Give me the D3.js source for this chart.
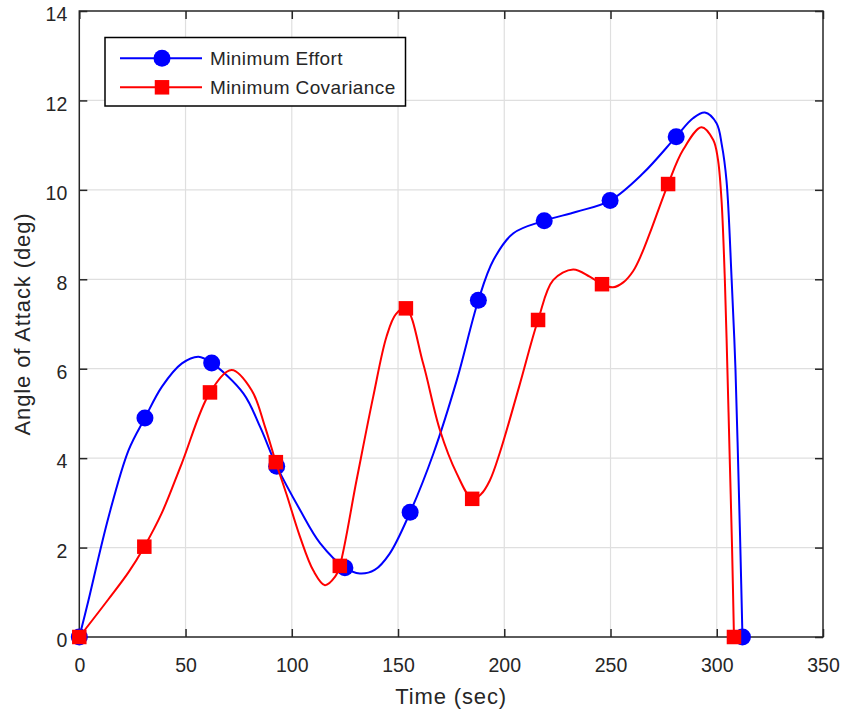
<!DOCTYPE html>
<html>
<head>
<meta charset="utf-8">
<script src="https://cdn.jsdelivr.net/npm/d3@7"></script>
<style>
  html, body { margin: 0; padding: 0; background: #ffffff; }
  svg text { font-family: "Liberation Sans", Arial, Helvetica, sans-serif; fill: #262626; }
</style>
</head>
<body>
<svg id="chart" width="843" height="717"></svg>
<script>
// ---- Data ----
const seriesNames = ["Minimum Effort", "Minimum Covariance"];
const xTicks = [0, 50, 100, 150, 200, 250, 300, 350];
const yTicks = [0, 2, 4, 6, 8, 10, 12, 14];

// Marker samples
const effortTime = [0, 30.9, 62.3, 92.9, 125.0, 155.7, 187.8, 218.8, 249.8, 280.9, 312.1];
const effortAoA  = [0, 4.90, 6.13, 3.82, 1.55, 2.79, 7.53, 9.31, 9.76, 11.19, 0];
const covTime    = [0, 30.6, 61.5, 92.5, 122.6, 153.7, 184.9, 215.9, 246.0, 277.1, 308.1];
const covAoA     = [0, 2.02, 5.47, 3.91, 1.59, 7.35, 3.09, 7.09, 7.89, 10.13, 0];

// Continuous trajectory samples
const effortCurveTime = [0, 3.6, 13.8, 23.2, 30.9, 38.9, 48.3, 56.1, 62.3, 77.2, 85.1, 92.9, 103.9, 113.3, 125.0, 132.0, 139.0, 146.0, 155.7, 166.7, 177.7, 187.8, 194.9, 204.3, 218.8, 234.0, 249.8, 265.3, 280.9, 288.8, 294.4, 299.9, 302.4, 304.6, 307.0, 308.8, 310.0, 311.1, 312.1];
const effortCurveAoA  = [0, 0.68, 2.69, 4.18, 4.90, 5.60, 6.12, 6.27, 6.13, 5.45, 4.70, 3.82, 2.84, 2.10, 1.55, 1.42, 1.50, 1.86, 2.79, 4.11, 5.75, 7.53, 8.43, 9.03, 9.31, 9.51, 9.76, 10.37, 11.19, 11.60, 11.73, 11.49, 11.0, 10.2, 8.0, 6.0, 4.0, 2.0, 0];
const covCurveTime = [0, 13.8, 23.2, 30.6, 38.8, 48.2, 61.5, 71.7, 81.1, 87.4, 92.5, 97.6, 103.8, 110.2, 115.6, 120.4, 122.6, 130.5, 138.3, 144.6, 149.0, 153.7, 161.8, 169.7, 177.6, 184.9, 189.0, 193.2, 197.9, 207.0, 215.9, 223.0, 232.4, 240.2, 246.0, 251.2, 256.0, 260.6, 264.5, 268.5, 277.1, 284.1, 292.8, 298.3, 300.5, 302.2, 303.8, 305.0, 306.1, 307.2, 308.1];
const covCurveAoA  = [0, 0.85, 1.45, 2.02, 2.77, 3.88, 5.47, 5.97, 5.52, 4.70, 3.91, 3.18, 2.25, 1.48, 1.16, 1.35, 1.59, 3.51, 5.37, 6.72, 7.22, 7.35, 6.12, 4.63, 3.66, 3.09, 3.19, 3.50, 4.12, 5.60, 7.09, 7.98, 8.22, 8.06, 7.89, 7.82, 7.93, 8.18, 8.55, 9.03, 10.13, 10.89, 11.40, 11.12, 10.7, 9.8, 8.0, 6.0, 4.0, 2.0, 0];

const seriesColors = ["#0000ff", "#ff0000"];

// ---- Layout ----
const svg = d3.select("#chart");
const plotL = 79.3, plotR = 823, plotT = 11, plotB = 637;
const x = d3.scaleLinear().domain([0, 350]).range([plotL, plotR]);
const y = d3.scaleLinear().domain([0, 14]).range([plotB, plotT]);
const axisColor = "#262626";

// Grid
const grid = svg.append("g");
grid.selectAll("line.vg").data(xTicks.slice(1, -1)).enter().append("line")
  .attr("x1", d => x(d)).attr("x2", d => x(d)).attr("y1", plotT).attr("y2", plotB)
  .attr("stroke", "#dfdfdf").attr("stroke-width", 1.2);
grid.selectAll("line.hg").data(yTicks.slice(1, -1)).enter().append("line")
  .attr("y1", d => y(d)).attr("y2", d => y(d)).attr("x1", plotL).attr("x2", plotR)
  .attr("stroke", "#dfdfdf").attr("stroke-width", 1.2);

// Axes (box with inward ticks on all sides)
function styleAxis(g) {
  g.select(".domain").remove();
  g.selectAll(".tick line").attr("stroke", axisColor).attr("stroke-width", 1.5);
  g.selectAll(".tick text").attr("font-size", 19.5).attr("fill", axisColor)
    .style("font-family", '"Liberation Sans", Arial, Helvetica, sans-serif');
}
const tickLen = 8;
const gx = svg.append("g").attr("transform", `translate(0,${plotB})`)
  .call(d3.axisBottom(x).tickValues(xTicks).tickSize(-tickLen).tickFormat(d3.format("d")));
styleAxis(gx);
gx.selectAll(".tick text").attr("dy", "0.71em").attr("y", 21);
const gxTop = svg.append("g").attr("transform", `translate(0,${plotT})`)
  .call(d3.axisTop(x).tickValues(xTicks).tickSize(-tickLen).tickFormat(""));
styleAxis(gxTop);
const gy = svg.append("g").attr("transform", `translate(${plotL},0)`)
  .call(d3.axisLeft(y).tickValues(yTicks).tickSize(-tickLen).tickFormat(d3.format("d")));
styleAxis(gy);
gy.selectAll(".tick text").attr("x", -12).attr("dy", "0.5em");
const gyRight = svg.append("g").attr("transform", `translate(${plotR},0)`)
  .call(d3.axisRight(y).tickValues(yTicks).tickSize(-tickLen).tickFormat(""));
styleAxis(gyRight);

svg.append("rect").attr("x", plotL).attr("y", plotT).attr("width", plotR - plotL).attr("height", plotB - plotT)
  .attr("fill", "none").attr("stroke", axisColor).attr("stroke-width", 1.5);

// Axis labels
svg.append("text").attr("x", (plotL + plotR) / 2).attr("y", 704).attr("text-anchor", "middle")
  .attr("font-size", 22).attr("letter-spacing", 0.85).text("Time (sec)");
svg.append("text").attr("transform", `translate(30,${(plotT + plotB) / 2}) rotate(-90)`)
  .attr("text-anchor", "middle").attr("font-size", 22).attr("letter-spacing", 0.9).text("Angle of Attack (deg)");

// Data
const line = d3.line().x(d => x(d[0])).y(d => y(d[1])).curve(d3.curveCatmullRom.alpha(0.5));
const effortCurve = effortCurveTime.map((t, i) => [t, effortCurveAoA[i]]);
const covCurve = covCurveTime.map((t, i) => [t, covCurveAoA[i]]);
const effortPts = effortTime.map((t, i) => [t, effortAoA[i]]);
const covPts = covTime.map((t, i) => [t, covAoA[i]]);

svg.append("path").datum(effortCurve).attr("d", line).attr("fill", "none")
  .attr("stroke", seriesColors[0]).attr("stroke-width", 2);
svg.selectAll("circle.eff").data(effortPts).enter().append("circle")
  .attr("cx", d => x(d[0])).attr("cy", d => y(d[1])).attr("r", 8.5).attr("fill", seriesColors[0]);

svg.append("path").datum(covCurve).attr("d", line).attr("fill", "none")
  .attr("stroke", seriesColors[1]).attr("stroke-width", 2);
const sq = 14.5;
svg.selectAll("rect.cov").data(covPts).enter().append("rect")
  .attr("x", d => x(d[0]) - sq / 2).attr("y", d => y(d[1]) - sq / 2)
  .attr("width", sq).attr("height", sq).attr("fill", seriesColors[1]);

// Legend
const lg = svg.append("g");
lg.append("rect").attr("x", 105).attr("y", 37.5).attr("width", 300.5).attr("height", 68.5)
  .attr("fill", "#ffffff").attr("stroke", "#000000").attr("stroke-width", 1.5);
const rowsY = [58.3, 87.3];
seriesNames.forEach((name, i) => {
  lg.append("line").attr("x1", 120).attr("x2", 202).attr("y1", rowsY[i]).attr("y2", rowsY[i])
    .attr("stroke", seriesColors[i]).attr("stroke-width", 2);
  if (i === 0) {
    lg.append("circle").attr("cx", 162).attr("cy", rowsY[i]).attr("r", 8.5).attr("fill", seriesColors[i]);
  } else {
    lg.append("rect").attr("x", 162 - sq / 2).attr("y", rowsY[i] - sq / 2).attr("width", sq).attr("height", sq)
      .attr("fill", seriesColors[i]);
  }
  lg.append("text").attr("x", 210).attr("y", rowsY[i]).attr("dy", "0.36em")
    .attr("font-size", 19).attr("letter-spacing", 0.4).attr("fill", "#000000").text(name);
});
</script>
</body>
</html>
